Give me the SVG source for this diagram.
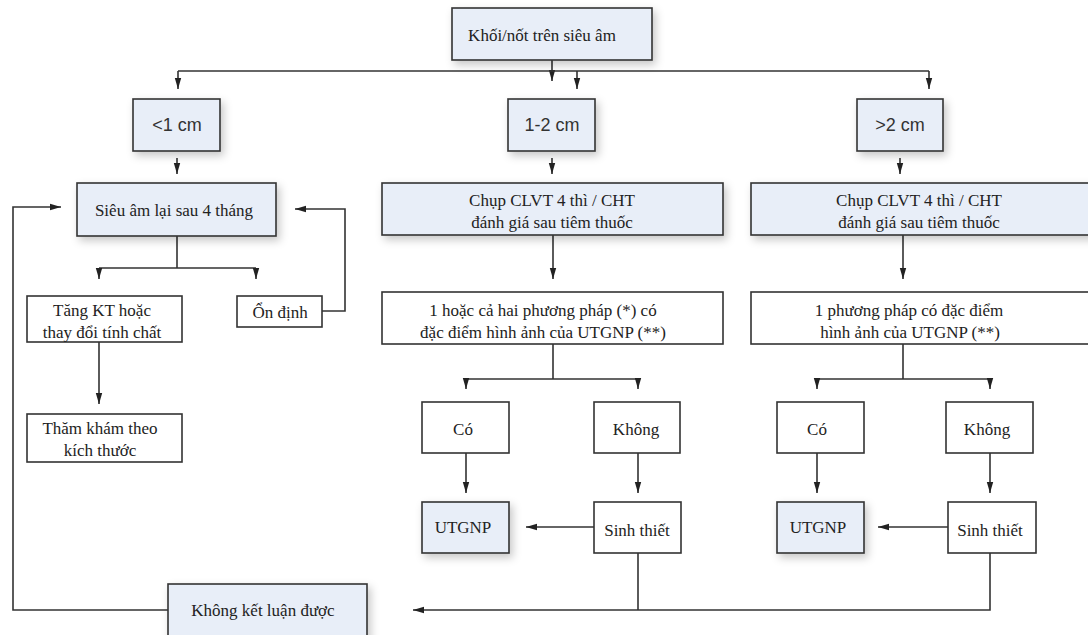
<svg xmlns="http://www.w3.org/2000/svg" width="1088" height="635" viewBox="0 0 1088 635">
<defs>
<style>
.b{fill:#e8eef8;stroke:#333;stroke-width:1.6;filter:url(#sh)}
.w{fill:#fff;stroke:#333;stroke-width:1.6}
.t{font-family:"Liberation Serif","Times New Roman",serif;font-size:17px;fill:#222;text-anchor:middle;dominant-baseline:central}
.s{font-family:"Liberation Sans",Arial,sans-serif;font-size:18px;fill:#333;text-anchor:middle;dominant-baseline:central}
.c path{fill:none;stroke:#333;stroke-width:1.6}
.c path.a{marker-end:url(#ar)}
</style>
<filter id="sh" x="-20%" y="-20%" width="150%" height="160%">
<feDropShadow dx="3" dy="4" stdDeviation="4" flood-color="#000" flood-opacity="0.22"/>
</filter>
<marker id="ar" markerUnits="userSpaceOnUse" markerWidth="12" markerHeight="8" refX="11" refY="4" orient="auto">
<path d="M0,0.8 L11,4 L0,7.2 z" fill="#222"/>
</marker>
</defs>
<rect width="1088" height="635" fill="#fff"/>

<g id="connectors" class="c">
<path class="a" d="M552,60 V81"/>
<path d="M178,71 H929"/>
<path class="a" d="M178,71 V89"/>
<path class="a" d="M577,71 V89"/>
<path class="a" d="M929,71 V89"/>
<path class="a" d="M177,158 V174"/>
<path class="a" d="M552,158 V174"/>
<path class="a" d="M900,158 V174"/>
<path d="M177,236 V268 M99,268 H256"/>
<path class="a" d="M99,268 V279"/>
<path class="a" d="M256,268 V279"/>
<path class="a" d="M322,311 H345 V209 H295"/>
<path class="a" d="M99,342 V404"/>
<path class="a" d="M168,610 H13 V207 H61"/>
<path class="a" d="M553,235 V279"/>
<path d="M553,344 V379 M466,379 H638"/>
<path class="a" d="M466,379 V389"/>
<path class="a" d="M638,379 V389"/>
<path class="a" d="M466,453 V493"/>
<path class="a" d="M638,453 V493"/>
<path class="a" d="M594,527 H526"/>
<path d="M638,553 V610"/>
<path class="a" d="M990,553 V610 H413"/>
<path class="a" d="M903,235 V279"/>
<path d="M903,344 V379 M817,379 H990"/>
<path class="a" d="M817,379 V389"/>
<path class="a" d="M990,379 V389"/>
<path class="a" d="M817,453 V493"/>
<path class="a" d="M990,453 V493"/>
<path class="a" d="M948,527 H878"/>
</g>

<g id="n-top"><rect class="b" x="452" y="8" width="200" height="52"/><text class="t" x="542" y="35">Khối/nốt trên siêu âm</text></g>
<g id="n-lt1"><rect class="b" x="133" y="99" width="87" height="52"/><text class="s" x="177" y="125">&lt;1 cm</text></g>
<g id="n-12"><rect class="b" x="508" y="99" width="87" height="52"/><text class="s" x="552" y="125">1-2 cm</text></g>
<g id="n-gt2"><rect class="b" x="857" y="99" width="86" height="52"/><text class="s" x="900" y="125">&gt;2 cm</text></g>

<g id="n-sieuam"><rect class="b" x="77" y="183" width="199" height="53"/><text class="t" x="174" y="210">Siêu âm lại sau 4 tháng</text></g>
<g id="n-tang"><rect class="w" x="27" y="296" width="155" height="46"/><text class="t" x="102" y="310">Tăng KT hoặc</text><text class="t" x="102" y="332">thay đổi tính chất</text></g>
<g id="n-ondinh"><rect class="w" x="237" y="296" width="85" height="31"/><text class="t" x="280" y="312">Ổn định</text></g>
<g id="n-thamkham"><rect class="w" x="27" y="414" width="155" height="48"/><text class="t" x="100" y="428">Thăm khám theo</text><text class="t" x="100" y="450">kích thước</text></g>

<g id="n-chup1"><rect class="b" x="382" y="183" width="341" height="52"/><text class="t" x="552" y="200">Chụp CLVT 4 thì / CHT</text><text class="t" x="552" y="222">đánh giá sau tiêm thuốc</text></g>
<g id="n-pp1"><rect class="w" x="382" y="292" width="341" height="52"/><text class="t" x="543" y="310">1 hoặc cả hai phương pháp (*) có</text><text class="t" x="543" y="332">đặc điểm hình ảnh của UTGNP (**)</text></g>
<g id="n-co1"><rect class="w" x="422" y="402" width="87" height="51"/><text class="t" x="463" y="429">Có</text></g>
<g id="n-khong1"><rect class="w" x="594" y="402" width="86" height="51"/><text class="t" x="636" y="429">Không</text></g>
<g id="n-utgnp1"><rect class="b" x="422" y="502" width="87" height="51"/><text class="t" x="463" y="527">UTGNP</text></g>
<g id="n-sinh1"><rect class="w" x="594" y="502" width="87" height="51"/><text class="t" x="637" y="530">Sinh thiết</text></g>

<g id="n-chup2"><rect class="b" x="751" y="183" width="345" height="52"/><text class="t" x="919" y="200">Chụp CLVT 4 thì / CHT</text><text class="t" x="919" y="222">đánh giá sau tiêm thuốc</text></g>
<g id="n-pp2"><rect class="w" x="751" y="292" width="345" height="52"/><text class="t" x="909" y="310">1 phương pháp có đặc điểm</text><text class="t" x="910" y="332">hình ảnh của UTGNP (**)</text></g>
<g id="n-co2"><rect class="w" x="777" y="402" width="87" height="51"/><text class="t" x="817" y="429">Có</text></g>
<g id="n-khong2"><rect class="w" x="946" y="402" width="87" height="51"/><text class="t" x="987" y="429">Không</text></g>
<g id="n-utgnp2"><rect class="b" x="777" y="502" width="87" height="51"/><text class="t" x="818" y="527">UTGNP</text></g>
<g id="n-sinh2"><rect class="w" x="948" y="502" width="88" height="51"/><text class="t" x="990" y="530">Sinh thiết</text></g>

<g id="n-khongketluan"><rect class="b" x="168" y="584" width="199" height="60"/><text class="t" x="263" y="610">Không kết luận được</text></g>
</svg>
